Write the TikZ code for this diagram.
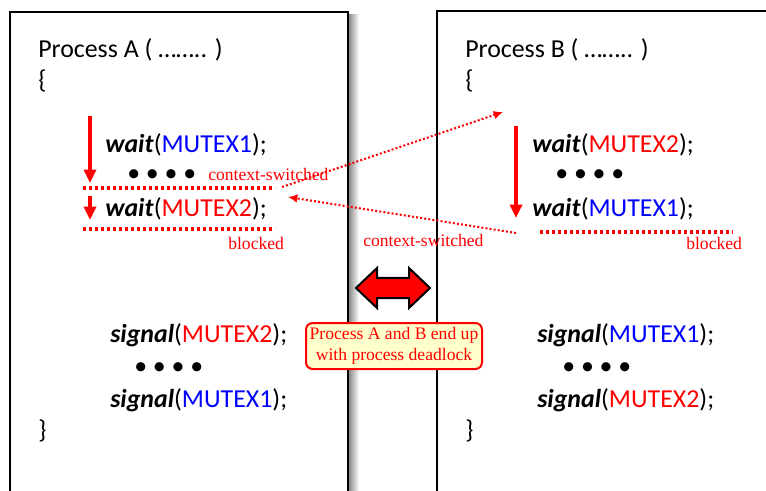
\documentclass[tikz,border=0pt]{standalone}
\usepackage{fontspec}
\setmainfont{Carlito}
\newfontfamily\notefamily{Liberation Serif}
\usetikzlibrary{arrows.meta}
\definecolor{mred}{RGB}{255,0,0}
\definecolor{mblue}{RGB}{0,0,255}
\definecolor{noteyellow}{RGB}{255,255,204}
\tikzset{
  code/.style={inner sep=0pt, anchor=base west, font=\fontsize{19.4pt}{23pt}\selectfont},
  note/.style={inner sep=0pt, anchor=base west, text=mred, font=\notefamily\fontsize{13.2pt}{15.75pt}\selectfont},
  procbox/.style={draw=black, line width=1.5pt},
  redarrow/.style={draw=mred, line width=2.8pt, -{Triangle[width=9pt,length=10pt]}},
  dotline/.style={draw=mred, line width=2.6pt, dash pattern=on 2.4pt off 2.1pt},
  dotarrow/.style={draw=mred, line width=1.5pt, dash pattern=on 1.5pt off 1.6pt, -{Latex[width=6.5pt,length=7pt,fill=mred]}},
  dealbox/.style={draw=mred, line width=1.5pt, fill=noteyellow, rounded corners=5pt, align=center, text=mred,
    font=\notefamily\fontsize{13.2pt}{15.75pt}\selectfont, minimum width=132pt, minimum height=34.5pt, inner sep=0pt}
}
\newcommand{\kw}[1]{\textbf{\textit{#1}}}
\begin{document}
\begin{tikzpicture}[x=0.75pt,y=-0.75pt]
\useasboundingbox (0,0) rectangle (766,491);
\clip (0,0) rectangle (766,491);
\fill[white] (0,0) rectangle (766,491);
% shadow of left box
\shade[left color=black!45, right color=white] (349,15) rectangle (359,495);
% process boxes
\draw[procbox] (10,500) -- (10,12) -- (348,12) -- (348,500);
\draw[procbox] (437,500) -- (437,11) -- (780,11);

% Process A
\node[code] (procA) at (38,58) {Process A ( …….. )};
\node[code] (openA) at (38,89) {\{};
\node[code] (waitA1) at (105,153) {\kw{wait}(\textcolor{mblue}{MUTEX1});};
\node[code] (dotsA1) at (127,182) {• • • •};
\node[note] (csA) at (208,181) {context-switched};
\node[code] (waitA2) at (105,217) {\kw{wait}(\textcolor{mred}{MUTEX2});};
\node[note] (blockedA) at (228,250) {blocked};
\node[code] (sigA2) at (110,342) {\kw{signal}(\textcolor{mred}{MUTEX2});};
\node[code] (dotsA2) at (134,374) {• • • •};
\node[code] (sigA1) at (110,407) {\kw{signal}(\textcolor{mblue}{MUTEX1});};
\node[code] (closeA) at (38,438) {\}};

% Process B
\node[code] (procB) at (465,58) {Process B ( …….. )};
\node[code] (openB) at (465,89) {\{};
\node[code] (waitB2) at (532,153) {\kw{wait}(\textcolor{mred}{MUTEX2});};
\node[code] (dotsB1) at (555,182) {• • • •};
\node[code] (waitB1) at (532,217) {\kw{wait}(\textcolor{mblue}{MUTEX1});};
\node[note] (blockedB) at (686,250) {blocked};
\node[code] (sigB1) at (537,342) {\kw{signal}(\textcolor{mblue}{MUTEX1});};
\node[code] (dotsB2) at (562,374) {• • • •};
\node[code] (sigB2) at (537,407) {\kw{signal}(\textcolor{mred}{MUTEX2});};
\node[code] (closeB) at (465,438) {\}};

% middle label
\node[note] (csMid) at (363,247) {context-switched};

% dotted lines
\coordinate (lA1s) at (83,188); \coordinate (lA1e) at (275,188);
\coordinate (lA2s) at (83,229); \coordinate (lA2e) at (275,229);
\coordinate (lBs) at (540,232); \coordinate (lBe) at (733,232);
\draw[dotline] (lA1s) -- (lA1e);
\draw[dotline] (lA2s) -- (lA2e);
\draw[dotline] (lBs) -- (lBe);

% red execution arrows
\coordinate (aA1s) at (90,116); \coordinate (aA1e) at (90,183);
\coordinate (aA2s) at (90,196); \coordinate (aA2e) at (90,220);
\coordinate (aBs) at (516,126); \coordinate (aBe) at (516,218);
\draw[redarrow] (aA1s) -- (aA1e);
\draw[redarrow] (aA2s) -- (aA2e);
\draw[redarrow] (aBs) -- (aBe);

% context switch arrows
\coordinate (sw1s) at (282,187); \coordinate (sw1e) at (503,112);
\coordinate (sw2s) at (516,233); \coordinate (sw2e) at (288,197);
\draw[dotarrow] (sw1s) -- (sw1e);
\draw[dotarrow] (sw2s) -- (sw2e);

% double arrow
\draw[fill=mred, draw=black, line width=1.5pt, line join=miter]
  (356,288) -- (377,268) -- (377,278) -- (409,278) -- (409,268) -- (430,288)
  -- (409,308) -- (409,298) -- (377,298) -- (377,308) -- cycle;

% deadlock note
\node[dealbox] (dead) at (394,346) {Process A and B end up\\with process deadlock};
\end{tikzpicture}
\end{document}
